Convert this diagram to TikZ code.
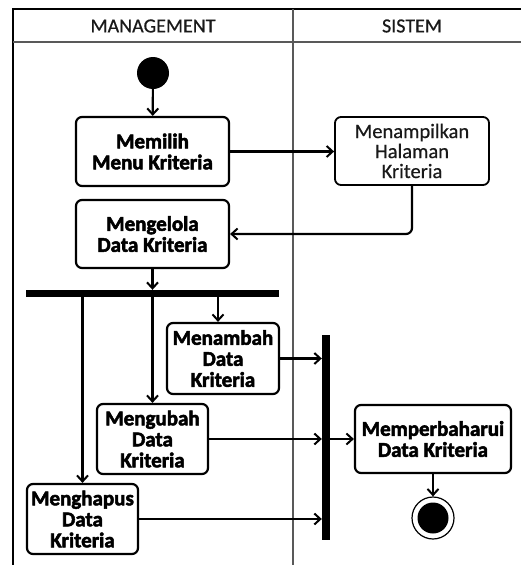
\documentclass[tikz,border=0pt]{standalone}
\usepackage{fontspec}
\setmainfont{Carlito}[BoldFeatures={FakeBold=2.5}]
\newfontfamily\regfont{Carlito}[FakeBold=0.6]
\usetikzlibrary{arrows.meta}
\begin{document}
\begin{tikzpicture}[x=1pt,y=-1pt,
  act/.style={draw, line width=2.2pt, rounded corners=6pt, align=center, inner sep=0pt,
    font=\fontsize{21}{21}\selectfont\bfseries},
  actreg/.style={act, line width=1.8pt, font=\regfont\fontsize{20.5}{20}\selectfont, text=black!90},
  bar/.style={fill=black, draw=none, inner sep=0pt},
  flow/.style={line width=2.2pt, -{Straight Barb[length=6pt,width=11pt,line width=2pt]}},
  lane/.style={line width=1.6pt, draw=black!65},
  hdr/.style={font=\regfont\fontsize{20}{20}\selectfont, text=black!90, inner sep=0pt}]
\useasboundingbox (0,0) rectangle (521,565);
% frame
\draw[line width=1.6pt] (13,565) -- (13,9) -- (521,9);
\draw[lane] (13,42) -- (521,42);
\draw[lane] (293,9) -- (293,565);
\node[hdr] (hm) at (153,26) {MANAGEMENT};
\node[hdr] (hs) at (412,26) {SISTEM};
% nodes
\node[circle, fill=black, minimum size=32pt, inner sep=0pt] (start) at (153,73) {};
\node[act, minimum width=153pt, minimum height=69pt] (memilih) at (152.5,151.5) {Memilih\\Menu Kriteria};
\node[actreg, minimum width=154pt, minimum height=68pt] (tampil) at (412,151) {Menampilkan\\Halaman\\Kriteria};
\node[act, minimum width=153pt, minimum height=68pt] (kelola) at (152.5,234) {Mengelola\\Data Kriteria};
\node[bar, minimum width=253pt, minimum height=7pt] (fork) at (152.5,293.5) {};
\node[act, minimum width=112pt, minimum height=71pt] (tambah) at (223,358.5) {Menambah\\Data\\Kriteria};
\node[act, minimum width=111pt, minimum height=70pt] (ubah) at (152.5,439) {Mengubah\\Data\\Kriteria};
\node[act, minimum width=111pt, minimum height=70pt] (hapus) at (82.5,519) {Menghapus\\Data\\Kriteria};
\node[bar, minimum width=8pt, minimum height=205pt] (join) at (326,437.5) {};
\node[act, minimum width=156pt, minimum height=68pt] (baru) at (433,439) {Memperbaharui\\Data Kriteria};
\node[circle, draw, line width=1.2pt, minimum size=42pt, inner sep=0pt] (end) at (433,518) {};
\node[circle, fill=black, minimum size=31pt, inner sep=0pt] (endin) at (end.center) {};
% connectors
\draw[flow] (start) -- (memilih);
\draw[flow] (memilih) -- (tampil.west |- memilih.east);
\draw[flow, rounded corners=6pt] (tampil.south) |- (kelola.east);
\draw[flow] (kelola) -- (fork.north -| kelola.south);
\draw[flow] (fork.south -| tambah.north) ++(-5,0) coordinate (ft) -- (ft |- tambah.north);
\draw[flow] (fork.south -| ubah.north) -- (ubah.north);
\draw[flow] (fork.south -| hapus.north) -- (hapus.north);
\draw[flow] (tambah.east) -- (tambah.east -| join.west);
\draw[flow] (ubah.east) -- (ubah.east -| join.west);
\draw[flow] (hapus.east) -- (hapus.east -| join.west);
\draw[flow] (join.east |- baru.west) -- (baru.west);
\draw[flow] (baru) -- (end);
\end{tikzpicture}
\end{document}
